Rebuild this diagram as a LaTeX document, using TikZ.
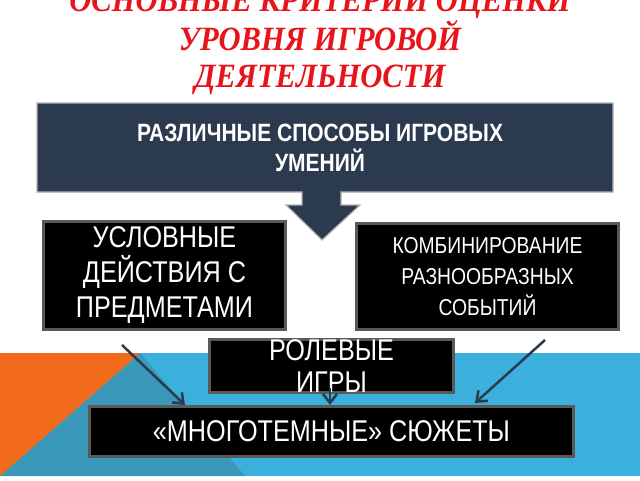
\documentclass[tikz,border=0pt]{standalone}
\usepackage{fontspec}
\setmainfont{Liberation Sans}
\newfontfamily\narrowfont[FakeStretch=0.84]{Liberation Sans}
\newfontfamily\titlefont[FakeStretch=0.9]{Liberation Serif}
\usetikzlibrary{arrows.meta}
\definecolor{navy}{HTML}{2B3A4E}
\definecolor{bblue}{HTML}{3BB0DD}
\definecolor{teal2}{HTML}{3A98B8}
\definecolor{orng}{HTML}{F26B1D}
\definecolor{ttl}{HTML}{E8141B}
\tikzset{
 blk/.style={draw=gray!70!black,line width=3pt,fill=black,text=white,align=center,inner sep=0pt,anchor=north west},
 conn/.style={draw=navy,line width=2.5pt,-{Straight Barb[length=9pt,width=14pt]}}
}
\begin{document}
\begin{tikzpicture}[x=1pt,y=-1pt]
\useasboundingbox (0,0) rectangle (640,480);
\fill[white] (0,0) rectangle (640,480);
\fill[bblue] (0,353) rectangle (640,476);
\fill[teal2] (140,353) -- (0,476) -- (245,476) -- cycle;
\fill[orng] (0,353) -- (140,353) -- (0,476) -- cycle;
\node[text=ttl,font=\titlefont\bfseries\itshape\fontsize{34}{37}\selectfont,align=center] (title) at (320,42) {ОСНОВНЫЕ КРИТЕРИИ ОЦЕНКИ\\УРОВНЯ ИГРОВОЙ\\ДЕЯТЕЛЬНОСТИ};
\draw[fill=navy,draw=gray!60,line width=1.2pt] (37,103) -- (613,103) -- (613,192) -- (341,192) -- (341,205) -- (360,205) -- (322,240) -- (286,205) -- (302,205) -- (302,192) -- (37,192) -- cycle;
\node[text=white,font=\narrowfont\bfseries\fontsize{25}{30}\selectfont,align=center] (top) at (320,148) {РАЗЛИЧНЫЕ СПОСОБЫ ИГРОВЫХ\\УМЕНИЙ};
\node[blk,minimum width=242pt,minimum height=108pt,font=\narrowfont\fontsize{30}{35}\selectfont] (l) at (42,220) {УСЛОВНЫЕ\\ДЕЙСТВИЯ С\\ПРЕДМЕТАМИ};
\node[blk,minimum width=262pt,minimum height=106pt,font=\narrowfont\fontsize{23}{31}\selectfont] (r) at (355,222) {КОМБИНИРОВАНИЕ\\РАЗНООБРАЗНЫХ\\СОБЫТИЙ};
\node[blk,minimum width=244pt,minimum height=52pt,font=\narrowfont\fontsize{30}{34}\selectfont] (m) at (208,338) {РОЛЕВЫЕ\\[-2pt]ИГРЫ};
\node[blk,minimum width=484pt,minimum height=50pt,font=\narrowfont\fontsize{30}{34}\selectfont] (b) at (88,405) {«МНОГОТЕМНЫЕ» СЮЖЕТЫ};
\coordinate (s1) at (122,345); \coordinate (e1) at (185,405);
\coordinate (s2) at (545,340); \coordinate (e2) at (475,403);
\coordinate (s3) at (330,388); \coordinate (e3) at (330,405);
\draw[conn] (s1) -- (e1);
\draw[conn] (s2) -- (e2);
\draw[conn] (s3) -- (e3);
\end{tikzpicture}
\end{document}
